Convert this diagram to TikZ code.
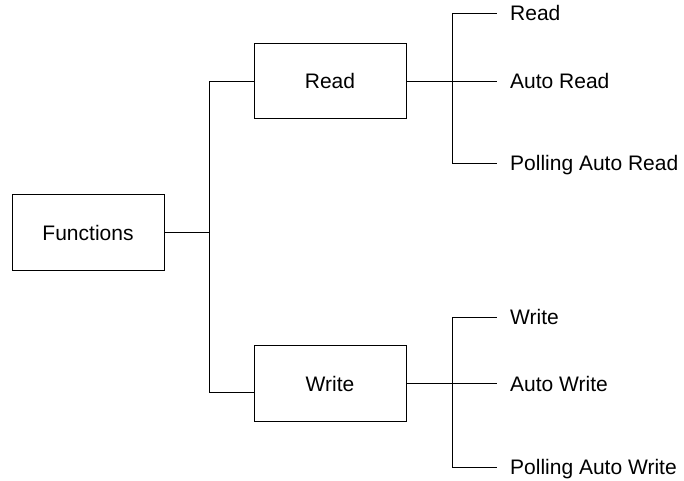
\documentclass[tikz,border=0pt]{standalone}
\usepackage{fontspec}
\setmainfont{Liberation Sans}
\begin{document}
\begin{tikzpicture}[x=1pt,y=-1pt,
  box/.style={draw,line width=0.9pt,minimum width=152pt,minimum height=75.5pt,inner sep=0pt,font=\fontsize{21}{25}\selectfont},
  leaf/.style={anchor=west,inner sep=0pt,text height=15pt,text depth=0pt,font=\fontsize{21}{25}\selectfont},
  conn/.style={line width=0.9pt}]
\useasboundingbox (0,0) rectangle (684,480);
% boxes
\node[box] (fun) at (88,232.5) {Functions};
\node[box] (rd) at (330,81) {Read};
\node[box] (wr) at (330,383.5) {Write};
% leaves
\node[leaf] (r1) at (510,13) {Read};
\node[leaf] (r2) at (510,81) {Auto Read};
\node[leaf] (r3) at (510,163) {Polling Auto Read};
\node[leaf] (w1) at (510,317) {Write};
\node[leaf] (w2) at (510,383.5) {Auto Write};
\node[leaf] (w3) at (510,467) {Polling Auto Write};
% junction coordinates
\coordinate (j0) at (209,232.5);
\coordinate (j0t) at (209,81);
\coordinate (j0b) at (209,392);
\coordinate (jr) at (452,81);
\coordinate (jrt) at (452,13);
\coordinate (jrb) at (452,163);
\coordinate (jw) at (452,383.5);
\coordinate (jwt) at (452,317);
\coordinate (jwb) at (452,467);
% connectors
\draw[conn] (fun.east) -- (j0);
\draw[conn] (j0t) -- (j0b);
\draw[conn] (j0t) -- (rd.west);
\draw[conn] (j0b) -- (j0b -| wr.west);
\draw[conn] (rd.east) -- (jr);
\draw[conn] (jrt) -- (jrb);
\draw[conn] (jrt) -- ([xshift=-13pt]r1.west);
\draw[conn] (jr) -- ([xshift=-13pt]r2.west);
\draw[conn] (jrb) -- ([xshift=-13pt]r3.west);
\draw[conn] (wr.east) -- (jw);
\draw[conn] (jwt) -- (jwb);
\draw[conn] (jwt) -- ([xshift=-13pt]w1.west);
\draw[conn] (jw) -- ([xshift=-13pt]w2.west);
\draw[conn] (jwb) -- ([xshift=-13pt]w3.west);
\end{tikzpicture}
\end{document}
